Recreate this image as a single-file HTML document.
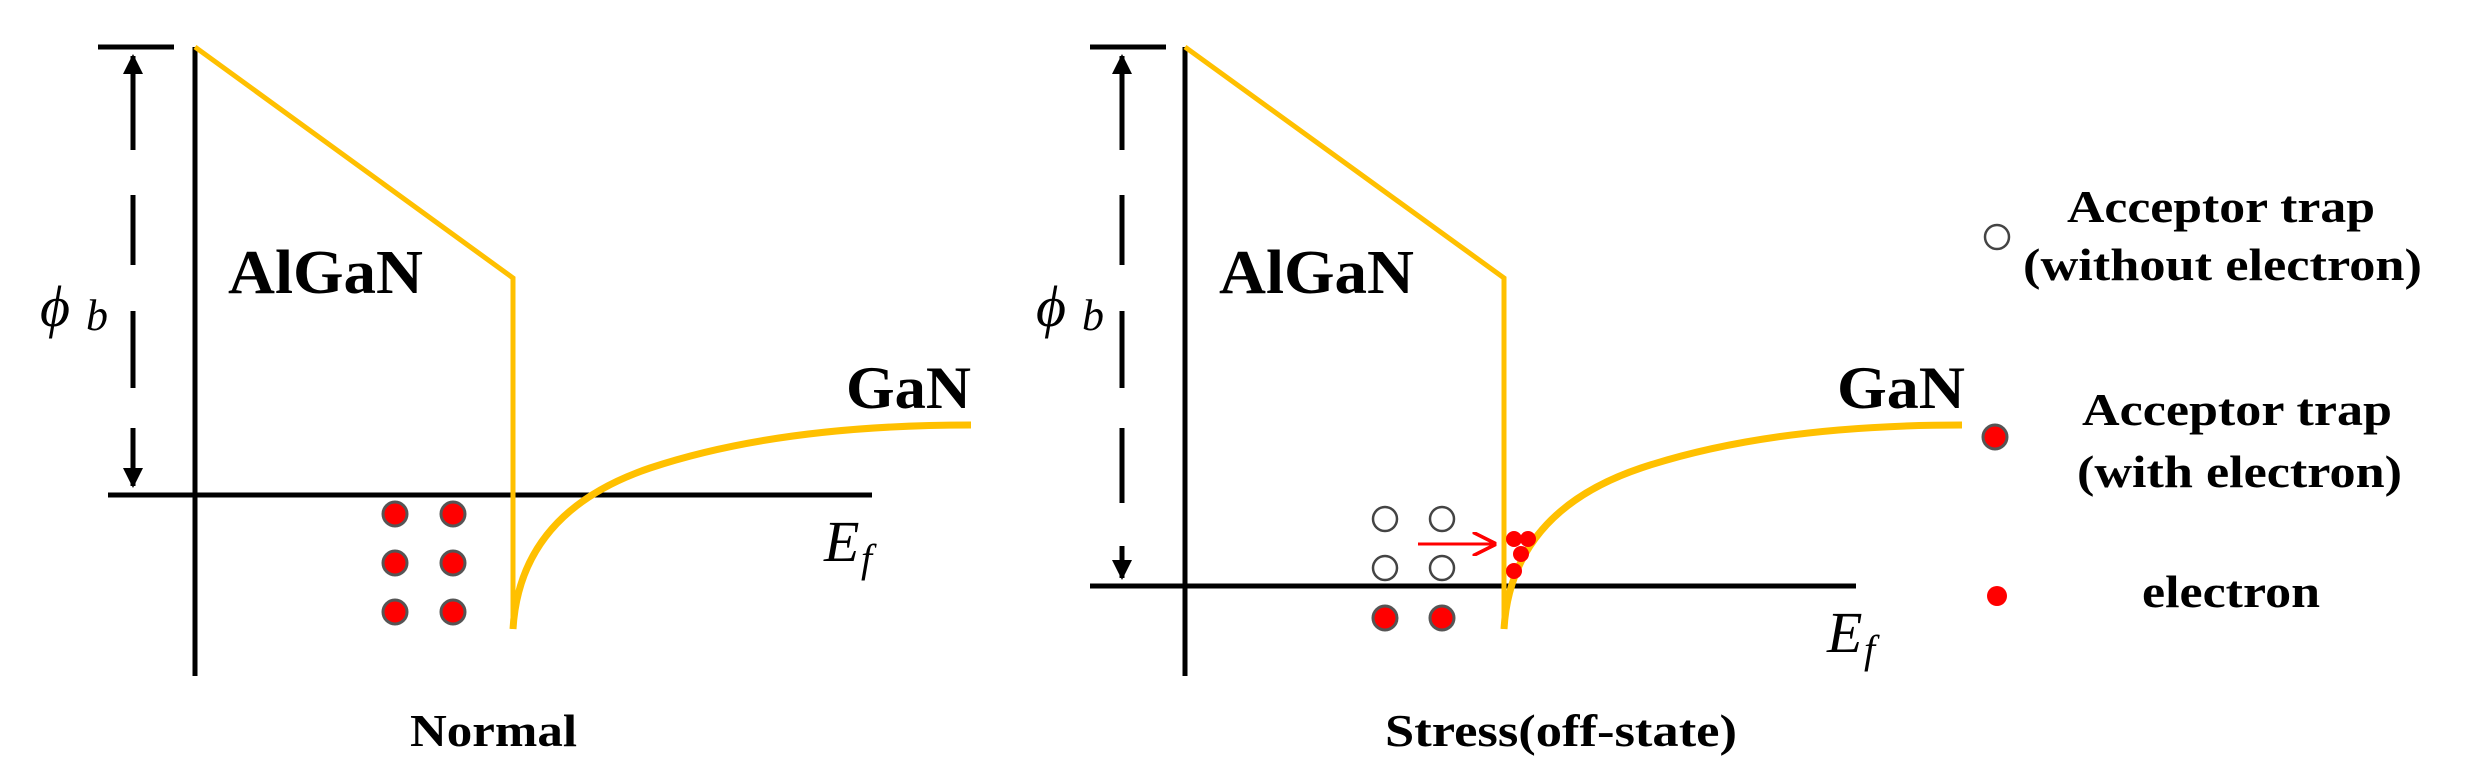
<!DOCTYPE html>
<html><head><meta charset="utf-8"><style>html,body{margin:0;padding:0;background:#fff}svg{display:block}</style></head>
<body>
<svg width="2483" height="782" viewBox="0 0 2483 782" xmlns="http://www.w3.org/2000/svg" font-family="Liberation Serif, serif">
<defs>
<marker id="ah" viewBox="0 0 10 10" refX="9" refY="5" markerWidth="4" markerHeight="5" orient="auto-start-reverse" markerUnits="strokeWidth"><path d="M0,0 L10,5 L0,10 z" fill="#000"/></marker>
<marker id="rh" viewBox="0 0 10 10" refX="9" refY="5" markerWidth="8" markerHeight="8" orient="auto" markerUnits="strokeWidth"><path d="M0,0 L10,5 L0,10" fill="none" stroke="#f00" stroke-width="1.5"/></marker>
</defs>
<!-- LEFT PANEL -->
<g stroke="#000" stroke-width="5" fill="none">
<line x1="98" y1="47" x2="174" y2="47"/>
<line x1="195" y1="47" x2="195" y2="676"/>
<line x1="108" y1="495" x2="872" y2="495"/>
<line x1="133" y1="150" x2="133" y2="56" marker-end="url(#ah)" stroke-width="5"/>
<line x1="133" y1="195" x2="133" y2="265" stroke-width="5"/>
<line x1="133" y1="311" x2="133" y2="388" stroke-width="5"/>
<line x1="133" y1="428" x2="133" y2="486" marker-end="url(#ah)" stroke-width="5"/>
</g>
<g stroke="#FFC000" fill="none">
<polyline points="195,47 513,278 513,629" stroke-width="5"/>
<path d="M513,629 C518,545 570,495 650,468 C740,438 850,425 971,425" stroke-width="7"/>
</g>
<g fill="#f00" stroke="#555" stroke-width="3">
<circle cx="395" cy="514" r="12"/><circle cx="453" cy="514" r="12"/>
<circle cx="395" cy="563" r="12"/><circle cx="453" cy="563" r="12"/>
<circle cx="395" cy="612" r="12"/><circle cx="453" cy="612" r="12"/>
</g>
<text x="40" y="326" font-size="58" font-style="italic">ϕ</text>
<text x="86" y="330" font-size="44" font-style="italic">b</text>
<text x="228" y="293" font-size="62" font-weight="bold" textLength="195" lengthAdjust="spacingAndGlyphs">AlGaN</text>
<text x="846" y="408" font-size="60" font-weight="bold" textLength="125" lengthAdjust="spacingAndGlyphs">GaN</text>
<text x="824" y="561" font-size="58" font-style="italic">E</text>
<text x="861" y="572" font-size="40" font-style="italic">f</text>
<text x="410" y="746" font-size="46" font-weight="bold" textLength="167" lengthAdjust="spacingAndGlyphs">Normal</text>
<!-- RIGHT PANEL -->
<g stroke="#000" stroke-width="5" fill="none">
<line x1="1090" y1="47" x2="1166" y2="47"/>
<line x1="1185" y1="47" x2="1185" y2="676"/>
<line x1="1090" y1="586" x2="1856" y2="586"/>
<line x1="1122" y1="150" x2="1122" y2="56" marker-end="url(#ah)"/>
<line x1="1122" y1="195" x2="1122" y2="265"/>
<line x1="1122" y1="311" x2="1122" y2="388"/>
<line x1="1122" y1="428" x2="1122" y2="503"/>
<line x1="1122" y1="546" x2="1122" y2="578" marker-end="url(#ah)"/>
</g>
<g stroke="#FFC000" fill="none">
<polyline points="1185,47 1504,278 1504,629" stroke-width="5"/>
<path d="M1504,629 C1509,545 1561,495 1641,468 C1731,438 1841,425 1962,425" stroke-width="7"/>
</g>
<g fill="#fff" stroke="#444" stroke-width="2.5">
<circle cx="1385" cy="519" r="12"/><circle cx="1442" cy="519" r="12"/>
<circle cx="1385" cy="568" r="12"/><circle cx="1442" cy="568" r="12"/>
</g>
<g fill="#f00" stroke="#555" stroke-width="3">
<circle cx="1385" cy="618" r="12"/><circle cx="1442" cy="618" r="12"/>
</g>
<line x1="1418" y1="544" x2="1494" y2="544" stroke="#f00" stroke-width="3" marker-end="url(#rh)"/>
<g fill="#f00">
<circle cx="1514" cy="539" r="8"/><circle cx="1528" cy="539" r="8"/>
<circle cx="1521" cy="554" r="8"/><circle cx="1514" cy="571" r="8"/>
</g>
<text x="1036" y="326" font-size="58" font-style="italic">ϕ</text>
<text x="1082" y="330" font-size="44" font-style="italic">b</text>
<text x="1219" y="293" font-size="62" font-weight="bold" textLength="195" lengthAdjust="spacingAndGlyphs">AlGaN</text>
<text x="1837" y="408" font-size="60" font-weight="bold" textLength="128" lengthAdjust="spacingAndGlyphs">GaN</text>
<text x="1827" y="652" font-size="58" font-style="italic">E</text>
<text x="1864" y="663" font-size="40" font-style="italic">f</text>
<text x="1385" y="746" font-size="46" font-weight="bold" textLength="352" lengthAdjust="spacingAndGlyphs">Stress(off-state)</text>
<!-- LEGEND -->
<circle cx="1997" cy="237" r="12" fill="#fff" stroke="#444" stroke-width="2.5"/>
<circle cx="1995" cy="437" r="12" fill="#f00" stroke="#555" stroke-width="3"/>
<circle cx="1997" cy="596" r="10" fill="#f00"/>
<g font-size="46" font-weight="bold">
<text x="2067" y="222" textLength="308" lengthAdjust="spacingAndGlyphs">Acceptor trap</text>
<text x="2023" y="280" textLength="399" lengthAdjust="spacingAndGlyphs">(without electron)</text>
<text x="2082" y="425" textLength="310" lengthAdjust="spacingAndGlyphs">Acceptor trap</text>
<text x="2077" y="487" textLength="325" lengthAdjust="spacingAndGlyphs">(with electron)</text>
<text x="2142" y="607" textLength="178" lengthAdjust="spacingAndGlyphs">electron</text>
</g>
</svg>
</body></html>
